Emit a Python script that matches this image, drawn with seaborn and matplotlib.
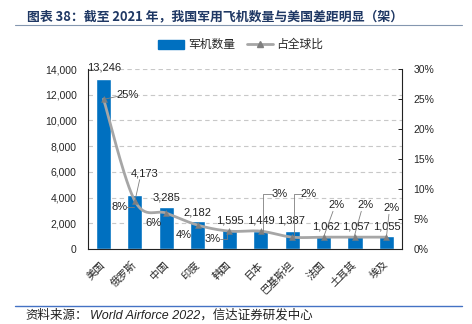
import numpy as np
import pandas as pd
import matplotlib
matplotlib.use("Agg")
import matplotlib.pyplot as plt
import seaborn as sns
from matplotlib.lines import Line2D
from matplotlib.patches import Patch

sns.set_theme(style="white")
plt.rcParams['font.family'] = ['Noto Sans CJK SC', 'DejaVu Sans']

countries = ["美国", "俄罗斯", "中国", "印度", "韩国", "日本", "巴基斯坦", "法国", "土耳其", "埃及"]
aircraft = [13246, 4173, 3285, 2182, 1595, 1449, 1387, 1062, 1057, 1055]
share = [25, 8, 6, 4, 3, 3, 2, 2, 2, 2]

BAR = "#0070C0"
LINE = "#A6A6A6"
MARK = "#7F7F7F"

fig = plt.figure(figsize=(4.72, 3.24), dpi=100)
ax = fig.add_axes([0.186, 0.231, 0.666, 0.556])
df = pd.DataFrame({"country": countries, "n": aircraft})
sns.barplot(data=df, x="country", y="n", color=BAR, width=0.48, saturation=1, ax=ax, zorder=2)
ax.set_ylim(0, 14000)
ax.set_xlim(-0.5, len(countries) - 0.5)
ax.set_yticks(np.arange(0, 14001, 2000))
ax.set_yticklabels([f"{v:,}" for v in range(0, 14001, 2000)], fontsize=7.5, family=['Liberation Sans'])
for y in range(2000, 14001, 2000):
    ax.axhline(y, color="#C8C8C8", lw=0.8, ls=(0, (4, 3)), zorder=0.5)
ax.set_xlabel("")
ax.set_ylabel("")
ax.set_xticks(range(len(countries)))
ax.set_xticklabels(countries, rotation=45, ha="right", va="center", rotation_mode="anchor", fontsize=7.5)
ax.tick_params(axis="x", length=0, pad=10)
ax.set_xticks(np.arange(-0.5, len(countries), 1), minor=True)
ax.tick_params(axis="x", which="minor", direction="in", length=3, color="#333333", width=0.7)
ax.tick_params(axis="y", length=0, pad=8)
for s in ["left", "bottom"]:
    ax.spines[s].set_color("#222222")
    ax.spines[s].set_linewidth(0.8)
ax.spines["top"].set_visible(False)
ax.spines["right"].set_visible(False)

ax2 = ax.twinx()
ax2.set_ylim(0, 30)
ax2.set_yticks(range(0, 31, 5))
ax2.set_yticklabels([f"{v}%" for v in range(0, 31, 5)], fontsize=7.5, family=['Liberation Sans'])
ax2.tick_params(axis="y", direction="in", length=3, width=0.7, color="#222222", pad=8)
for s in ["left", "top", "bottom"]:
    ax2.spines[s].set_visible(False)
ax2.spines["right"].set_color("#222222")
ax2.spines["right"].set_linewidth(0.8)

# smoothed share curve (Catmull-Rom through the points)
x = np.arange(len(share), dtype=float)
yv = np.array(share, dtype=float)
px = np.concatenate([[x[0]], x, [x[-1]]])
py = np.concatenate([[yv[0]], yv, [yv[-1]]])
cx, cy = [], []
for i in range(1, len(px) - 2):
    t = np.linspace(0, 1, 30)
    for arr, out in ((px, cx), (py, cy)):
        p0, p1, p2, p3 = arr[i - 1], arr[i], arr[i + 1], arr[i + 2]
        out.extend(0.5 * ((2 * p1) + (-p0 + p2) * t + (2 * p0 - 5 * p1 + 4 * p2 - p3) * t ** 2
                          + (-p0 + 3 * p1 - 3 * p2 + p3) * t ** 3))
ax2.plot(cx, cy, color=LINE, lw=2.0, zorder=3, solid_capstyle="round")
sns.scatterplot(x=x, y=yv, marker="^", color=MARK, s=18, edgecolor=MARK, ax=ax2, zorder=4)

lf = dict(fontsize=8, family=['Liberation Sans'], color="#222222")
# value labels (x in category units, y in aircraft units)
vpos = [(0.03, 14080), (1.3, 5910), (2.0, 4050), (3.0, 2880), (4.02, 2255),
        (5.0, 2255), (5.97, 2255), (7.08, 1790), (8.04, 1790), (9.0, 1790)]
for (xx, yy), v in zip(vpos, aircraft):
    ax.text(xx, yy, f"{v:,}", ha="center", va="center", zorder=5, **lf)
ax.plot([1.15, 1.0], [5400, 3750], color="#7F7F7F", lw=0.6, zorder=5)

# share labels (x in category units, y in percent units)
spos = [(0.76, 25.7), (0.52, 7.0), (1.58, 4.33), (2.54, 2.33), (3.48, 1.67),
        (5.61, 9.17), (6.52, 9.17), (7.41, 7.33), (8.32, 7.33), (9.17, 6.83)]
for (xx, yy), v in zip(spos, share):
    ax2.text(xx, yy, f"{v}%", ha="center", va="center", zorder=5, **lf)
lc = dict(color="#7F7F7F", lw=0.6, zorder=5)
ax2.plot([0.5, 0.05], [25.5, 25.0], **lc)
ax2.plot([0.73, 0.97], [7.0, 7.0], **lc)
ax2.plot([3.7, 3.93, 3.93], [1.67, 1.67, 3.0], **lc)
ax2.plot([5.4, 5.08, 5.08], [9.17, 9.17, 3.0], **lc)
ax2.plot([6.31, 6.05, 6.05], [9.17, 9.17, 2.0], **lc)
ax2.plot([7.3, 7.0], [6.3, 2.0], **lc)
ax2.plot([8.2, 7.97], [6.3, 2.0], **lc)
ax2.plot([9.08, 9.0], [5.8, 2.0], **lc)

# legend
handles = [Patch(facecolor=BAR, edgecolor=BAR),
           Line2D([0], [0], color=LINE, lw=2, marker="^", markersize=4,
                  markerfacecolor=MARK, markeredgecolor=MARK)]
fig.legend(handles, ["军机数量", "占全球比"], loc="center", bbox_to_anchor=(0.51, 0.862),
           ncol=2, frameon=False, fontsize=8.5, handlelength=2.2, handleheight=0.8,
           columnspacing=1.0, handletextpad=0.3)

# title and rules
fig.text(0.057, 0.949, "图表 38：截至 2021 年，我国军用飞机数量与美国差距明显（架）",
         fontsize=9.3, fontweight="bold", color="#1F3864", va="center", ha="left")
fig.add_artist(Line2D([0.032, 0.978], [0.922, 0.922], color="#8497B0", lw=0.8))
fig.add_artist(Line2D([0.032, 0.978], [0.056, 0.056], color="#4472C4", lw=1.0))
fig.text(0.053, 0.027, "资料来源：", fontsize=9, style="italic", color="#222222", va="center")
fig.text(0.19, 0.027, "World Airforce 2022，信达证券研发中心", fontsize=9, style="italic",
         color="#222222", va="center", family=['Liberation Sans', 'Noto Sans CJK SC'])

fig.savefig("out.png", dpi=100)
